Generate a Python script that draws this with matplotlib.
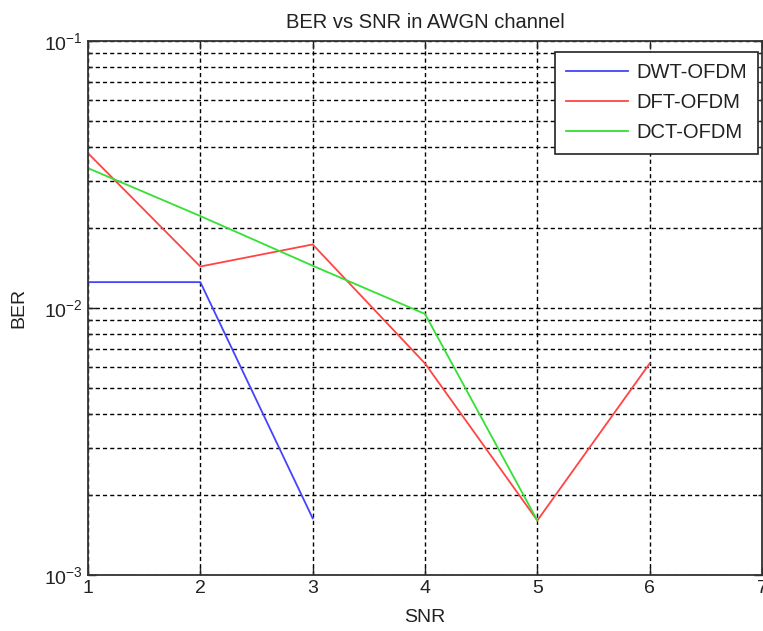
import matplotlib
matplotlib.use("Agg")
import matplotlib.pyplot as plt
from matplotlib.ticker import LogLocator, FixedLocator

plt.rcParams['font.family'] = ['Liberation Sans', 'DejaVu Sans']

snr_dwt = [1, 2, 3]
ber_dwt = [0.0125, 0.0125, 0.00163]
snr_dft = [1, 2, 3, 4, 5, 6]
ber_dft = [0.038, 0.0143, 0.0173, 0.0062, 0.0016, 0.0062]
snr_dct = [1, 2, 3, 4, 5]
ber_dct = [0.0334, 0.0221, 0.0144, 0.0095, 0.0016]
labels = ['DWT-OFDM', 'DFT-OFDM', 'DCT-OFDM']
x_ticks = [1, 2, 3, 4, 5, 6, 7]

fig = plt.figure(figsize=(7.63, 6.31), dpi=100)
ax = fig.add_axes([88/763, 56/631, 674/763, 534/631])

ax.plot(snr_dwt, ber_dwt, color='#4444ff', lw=1.3, label=labels[0])
ax.plot(snr_dft, ber_dft, color='#ff4444', lw=1.3, label=labels[1])
ax.plot(snr_dct, ber_dct, color='#33e033', lw=1.3, label=labels[2])

ax.set_yscale('log')
ax.set_xlim(1, 7)
ax.set_ylim(1e-3, 1e-1)
ax.xaxis.set_major_locator(FixedLocator(x_ticks))
ax.yaxis.set_major_locator(LogLocator(base=10, numticks=5))
ax.yaxis.set_minor_locator(LogLocator(base=10, subs=range(2, 10), numticks=20))

grid_style = dict(color='black', linestyle=(0, (3, 2.2)), linewidth=1.0)
ax.grid(True, which='major', axis='both', **grid_style)
ax.grid(True, which='minor', axis='y', **grid_style)

ax.tick_params(which='both', direction='in', top=True, right=True,
               labelsize=14, width=1, colors='#222222')
ax.tick_params(which='major', length=6)
ax.tick_params(which='minor', length=3, labelleft=False)
for s in ax.spines.values():
    s.set_linewidth(1.3)
    s.set_color('#333333')

ax.set_title('BER vs SNR in AWGN channel', fontsize=14.5, color='#222222', pad=9)
ax.set_xlabel('SNR', fontsize=14, color='#222222', labelpad=9)
ax.set_ylabel('BER', fontsize=14, color='#222222', labelpad=12)

leg = ax.legend(loc='upper right', bbox_to_anchor=(0.994, 0.979), borderaxespad=0,
                fontsize=14.5, frameon=True, fancybox=False, edgecolor='#222222',
                framealpha=1, handlelength=3.1, handletextpad=0.4,
                borderpad=0.55, labelspacing=0.55)
leg.get_frame().set_linewidth(1.2)
for t in leg.get_texts():
    t.set_color('#222222')

fig.savefig('out.png', dpi=100, facecolor='white')
